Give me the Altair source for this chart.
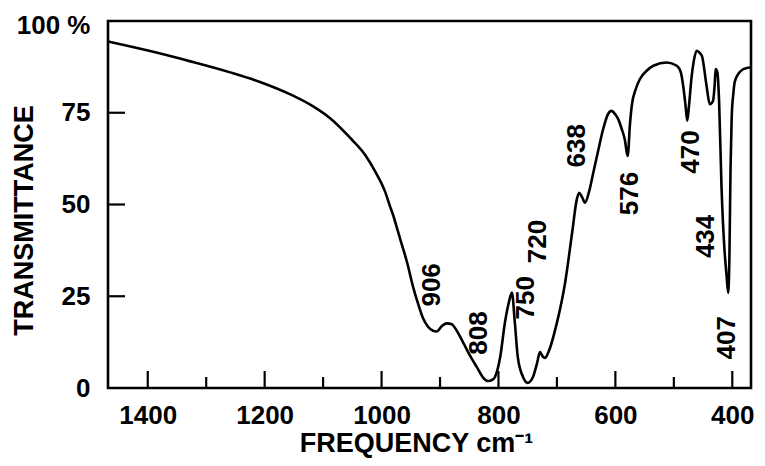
import altair as alt
import pandas as pd

# Spectrum trace (frequency cm-1, transmittance %)
freq = [1468, 1396, 1327, 1259, 1208, 1156, 1122, 1088, 1054, 1028, 1011, 994,
        985.5, 980, 973.5, 968, 956, 946, 937.6, 929, 920.5, 912, 905.6, 896, 888,
        880, 871, 863, 854, 845, 837, 825,
        818, 810, 806, 797, 789, 782, 777, 772, 767, 758, 750, 741, 734, 729,
        724, 720, 715, 700, 686, 674, 666, 662, 657, 652, 645, 638, 629, 621,
        613, 606.5, 600, 595, 589, 584, 579, 575, 572, 565, 558, 546, 535, 512,
        495, 488, 484, 480, 477, 474, 470, 466, 461, 457, 452, 444, 438.5, 433,
        430, 428.5, 425.5, 422.5, 418.5, 413, 410, 407, 405, 403, 401, 398, 396,
        390, 382, 375, 368]
trans = [94.4, 91.8, 89.0, 86.0, 83.4, 80.0, 77.2, 73.5, 68.2, 63.5, 59.0, 53.5,
         49.5, 47, 43.5, 40.5, 34, 27.5, 23, 19, 16.7, 15.6, 15.4, 17.0, 17.6,
         17.4, 15.5, 13.2, 10.4, 7.8, 5.7, 2.6,
         1.9, 2.3, 3, 8.5, 17.8, 23.5, 26, 17.8, 8.5, 3, 1.4, 3, 6.8, 9.8,
         8.5, 8.2, 9.6, 17.8, 28.7, 42.3, 51.4, 53.2, 52, 50.5, 53.5, 58.5, 65, 70.5,
         74.5, 75.5, 74.5, 73.2, 70.5, 67.8, 63.2, 72, 76.9, 81.5, 84.2, 86.5, 87.8, 88.7,
         87.8, 86, 82.3, 77, 72.8, 77, 84.2, 89, 91.9, 91.5, 90.5, 82.3, 77.3, 78.2,
         83, 86.9, 86, 77.8, 55, 36.8, 31, 25.9, 35, 60, 74, 80.5, 83.3,
         85.5, 86.8, 87.2, 87.4]

# Band annotations
ann_text = ["906", "808", "750", "720", "638", "576", "470", "434", "407"]
ann_freq = [914, 833, 753, 732.5, 665, 575, 470, 444.5, 409.4]
ann_t = [28.1, 15, 24.6, 39.9, 66, 53, 64.3, 41.3, 13.7]

# Axis values
y_ticks = [25, 50, 75]
y_labels = [0, 25, 50, 75, 100]
x_major = [1400, 1200, 1000, 800, 600, 400]
x_minor = [1300, 1100, 900, 700, 500]

W, H = 643, 367
FONT = "Liberation Sans"

spec_df = pd.DataFrame({"freq": freq, "T": trans})
ann_df = pd.DataFrame({"freq": ann_freq, "T": ann_t, "label": ann_text})
ytick_df = pd.DataFrame({"T": y_ticks})
xmaj_df = pd.DataFrame({"freq": x_major})
xmin_df = pd.DataFrame({"freq": x_minor})

xscale = alt.Scale(domain=[368, 1468], reverse=True, nice=False, zero=False)
yscale = alt.Scale(domain=[0, 100], nice=False, zero=False)

x_axis = alt.Axis(values=x_major, format="d", title="FREQUENCY  cm\u207b\u00b9",
                  labelPadding=14, labelFlush=False,
                  titleX=308, titleY=55, titleAlign="center",
                  titleBaseline="middle")
y_axis = alt.Axis(values=y_labels, title="TRANSMITTANCE",
                  labelExpr="datum.value == 100 ? '100 %' : datum.label",
                  labelOffset={"condition": {"test": "datum.value == 100", "value": 4},
                               "value": 0},
                  labelPadding=18, labelFlush=False,
                  titleX=-84, titleY=199, titleAngle=270,
                  titleAlign="center", titleBaseline="middle")

line = alt.Chart(spec_df).mark_line(
    color="black", strokeWidth=2.6, interpolate="monotone"
).encode(
    x=alt.X("freq:Q", scale=xscale, axis=x_axis),
    y=alt.Y("T:Q", scale=yscale, axis=y_axis),
)

text = alt.Chart(ann_df).mark_text(
    angle=270, font=FONT, fontSize=26, fontWeight="bold", color="black",
    align="center", baseline="middle"
).encode(
    x=alt.X("freq:Q", scale=xscale, axis=x_axis),
    y=alt.Y("T:Q", scale=yscale, axis=y_axis),
    text="label:N",
)

yticks = alt.Chart(ytick_df).mark_rule(color="black", strokeWidth=2.2).encode(
    y=alt.Y("T:Q", scale=yscale, axis=y_axis),
    x=alt.value(0),
    x2=alt.value(17),
)

xmaj = alt.Chart(xmaj_df).mark_rule(color="black", strokeWidth=2.2).encode(
    x=alt.X("freq:Q", scale=xscale, axis=x_axis),
    y=alt.value(H),
    y2=alt.value(H - 17),
)

xmin = alt.Chart(xmin_df).mark_rule(color="black", strokeWidth=2.2).encode(
    x=alt.X("freq:Q", scale=xscale, axis=x_axis),
    y=alt.value(H),
    y2=alt.value(H - 11),
)

chart = alt.layer(line, text, yticks, xmaj, xmin).properties(
    width=W, height=H,
    autosize=alt.AutoSizeParams(type="none"),
    padding={"left": 100, "top": 13, "right": 6, "bottom": 70},
    background="white",
).configure_view(
    stroke="black", strokeWidth=2.6
).configure_axis(
    grid=False, domain=False, ticks=False,
    labelFont=FONT, labelFontSize=26, labelFontWeight="bold", labelColor="black",
    titleFont=FONT, titleFontSize=27, titleFontWeight="bold", titleColor="black",
    labelOverlap=False,
)

chart.save("out.html", embed_options={"renderer": "svg", "actions": False})
